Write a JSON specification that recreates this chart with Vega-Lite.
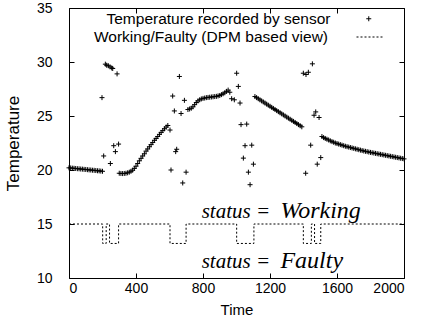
{
  "$schema": "https://vega.github.io/schema/vega-lite/v6.json",
  "width": 335,
  "height": 270,
  "autosize": "none",
  "padding": {"left": 69, "top": 8, "right": 19, "bottom": 47},
  "background": "white",
  "config": {
    "view": {"stroke": "black", "strokeWidth": 1},
    "font": "Liberation Sans",
    "axis": {"grid": false, "domain": false, "tickColor": "black", "tickSize": -5, "labelColor": "black", "labelFontSize": 14, "labelFont": "Liberation Sans", "titleFont": "Liberation Sans", "titleFontSize": 15, "titleFontWeight": "normal", "titleColor": "black"},
    "legend": {"title": null, "orient": "none", "labelFontSize": 15.5, "labelColor": "black", "labelFont": "Liberation Sans", "labelAlign": "right", "labelLimit": 400, "symbolStrokeColor": "black", "symbolFillColor": "transparent", "symbolStrokeWidth": 1, "symbolOpacity": 1}
  },
  "datasets": {
    "temp": [
      {"t":0,"v":20.2},{"t":10,"v":20.19},{"t":20,"v":20.17},{"t":30,"v":20.16},{"t":40,"v":20.14},{"t":50,"v":20.12},{"t":60,"v":20.11},{"t":70,"v":20.09},{"t":80,"v":20.08},{"t":90,"v":20.06},{"t":100,"v":20.05},{"t":110,"v":20.03},{"t":120,"v":20.01},{"t":130,"v":20.0},{"t":140,"v":19.98},{"t":150,"v":19.97},{"t":160,"v":19.95},{"t":170,"v":19.93},{"t":180,"v":19.92},{"t":190,"v":19.9},{"t":200,"v":19.88},
      {"t":197,"v":26.7},{"t":217,"v":29.8},{"t":225,"v":29.7},{"t":235,"v":29.65},{"t":245,"v":29.55},{"t":255,"v":29.45},{"t":261,"v":29.4},{"t":287,"v":28.9},{"t":207,"v":21.3},{"t":247,"v":20.6},{"t":267,"v":22.25},{"t":277,"v":21.7},{"t":296,"v":22.4},
      {"t":300,"v":19.7},{"t":310,"v":19.68},{"t":320,"v":19.67},{"t":330,"v":19.68},{"t":340,"v":19.7},{"t":350,"v":19.74},{"t":360,"v":19.8},{"t":370,"v":19.88},{"t":380,"v":19.98},{"t":390,"v":20.15},{"t":400,"v":20.35},{"t":410,"v":20.6},{"t":420,"v":20.85},{"t":430,"v":21.08},{"t":440,"v":21.3},{"t":450,"v":21.5},{"t":460,"v":21.75},{"t":470,"v":21.95},{"t":480,"v":22.15},{"t":490,"v":22.35},{"t":500,"v":22.55},{"t":510,"v":22.75},{"t":520,"v":22.92},{"t":530,"v":23.1},{"t":540,"v":23.3},{"t":550,"v":23.48},{"t":560,"v":23.65},{"t":570,"v":23.82},{"t":580,"v":23.98},{"t":590,"v":24.12},
      {"t":603,"v":23.7},{"t":659,"v":28.66},{"t":619,"v":26.85},{"t":629,"v":25.47},{"t":689,"v":26.45},{"t":669,"v":25.23},{"t":643,"v":21.92},{"t":637,"v":21.7},{"t":609,"v":20.0},{"t":699,"v":19.8},{"t":679,"v":18.8},
      {"t":710,"v":25.6},{"t":720,"v":25.65},{"t":730,"v":25.72},{"t":740,"v":25.85},{"t":750,"v":26.05},{"t":760,"v":26.25},{"t":770,"v":26.4},{"t":780,"v":26.5},{"t":790,"v":26.58},{"t":800,"v":26.63},{"t":810,"v":26.66},{"t":820,"v":26.7},{"t":830,"v":26.72},{"t":840,"v":26.74},{"t":850,"v":26.76},{"t":860,"v":26.78},{"t":870,"v":26.8},{"t":880,"v":26.82},{"t":890,"v":26.86},{"t":900,"v":26.9},{"t":910,"v":26.98},{"t":920,"v":27.06},{"t":930,"v":27.15},{"t":940,"v":27.28},{"t":950,"v":27.4},{"t":960,"v":27.2},
      {"t":971,"v":26.6},{"t":987,"v":26.5},{"t":1001,"v":28.96},{"t":1011,"v":27.74},{"t":1021,"v":26.2},{"t":1027,"v":24.2},{"t":1061,"v":24.25},{"t":1051,"v":22.25},{"t":1091,"v":22.3},{"t":1041,"v":21.1},{"t":1101,"v":20.54},{"t":1071,"v":19.8},{"t":1081,"v":18.64},
      {"t":1110,"v":26.8},{"t":1120,"v":26.7},{"t":1130,"v":26.6},{"t":1140,"v":26.5},{"t":1150,"v":26.4},{"t":1160,"v":26.3},{"t":1170,"v":26.2},{"t":1180,"v":26.1},{"t":1190,"v":26.0},{"t":1200,"v":25.9},{"t":1210,"v":25.8},{"t":1220,"v":25.7},{"t":1230,"v":25.6},{"t":1240,"v":25.5},{"t":1250,"v":25.4},{"t":1260,"v":25.3},{"t":1270,"v":25.2},{"t":1280,"v":25.1},{"t":1290,"v":25.0},{"t":1300,"v":24.9},{"t":1310,"v":24.8},{"t":1320,"v":24.7},{"t":1330,"v":24.6},{"t":1340,"v":24.5},{"t":1350,"v":24.4},{"t":1360,"v":24.3},{"t":1370,"v":24.2},{"t":1380,"v":24.1},{"t":1390,"v":24.0},
      {"t":1453,"v":29.83},{"t":1399,"v":28.96},{"t":1415,"v":28.84},{"t":1429,"v":29.05},{"t":1473,"v":25.38},{"t":1463,"v":25.07},{"t":1493,"v":24.86},{"t":1443,"v":22.3},{"t":1503,"v":21.15},{"t":1482,"v":20.54},{"t":1413,"v":19.7},
      {"t":1510,"v":23.1},{"t":1520,"v":23.0},{"t":1530,"v":22.92},{"t":1540,"v":22.85},{"t":1550,"v":22.78},{"t":1560,"v":22.7},{"t":1570,"v":22.63},{"t":1580,"v":22.57},{"t":1590,"v":22.5},{"t":1600,"v":22.45},{"t":1610,"v":22.4},{"t":1620,"v":22.35},{"t":1630,"v":22.3},{"t":1640,"v":22.25},{"t":1650,"v":22.2},{"t":1660,"v":22.16},{"t":1670,"v":22.12},{"t":1680,"v":22.08},{"t":1690,"v":22.04},{"t":1700,"v":22.0},{"t":1710,"v":21.96},{"t":1720,"v":21.92},{"t":1730,"v":21.88},{"t":1740,"v":21.84},{"t":1750,"v":21.8},{"t":1760,"v":21.76},{"t":1770,"v":21.73},{"t":1780,"v":21.7},{"t":1790,"v":21.66},{"t":1800,"v":21.63},{"t":1810,"v":21.6},{"t":1820,"v":21.57},{"t":1830,"v":21.54},{"t":1840,"v":21.51},{"t":1850,"v":21.48},{"t":1860,"v":21.45},{"t":1870,"v":21.42},{"t":1880,"v":21.39},{"t":1890,"v":21.36},{"t":1900,"v":21.33},{"t":1910,"v":21.3},{"t":1920,"v":21.27},{"t":1930,"v":21.24},{"t":1940,"v":21.21},{"t":1950,"v":21.18},{"t":1960,"v":21.15},{"t":1970,"v":21.12},{"t":1980,"v":21.09},{"t":1990,"v":21.06},{"t":2000,"v":21.03}
    ],
    "status": [
      {"t":0,"v":15},{"t":201,"v":13.2},{"t":222,"v":15},{"t":242,"v":13.2},{"t":296,"v":15},{"t":603,"v":13.2},{"t":699,"v":15},{"t":1001,"v":13.2},{"t":1104,"v":15},{"t":1399,"v":13.2},{"t":1447,"v":15},{"t":1466,"v":13.2},{"t":1503,"v":15},{"t":2000,"v":15}
    ],
    "labels": [
      {"t":792,"v":15.53,"label":"status  ="},
      {"t":792,"v":10.9,"label":"status  ="}
    ],
    "words": [
      {"t":1262,"v":15.53,"label":"Working"},
      {"t":1262,"v":10.9,"label":"Faulty"}
    ]
  },
  "resolve": {"axis": {"x": "independent", "y": "independent"}},
  "layer": [
    {
      "data": {"name": "temp"},
      "mark": {"type": "point", "size": 25, "strokeWidth": 1, "filled": false, "opacity": 1, "color": "black"},
      "encoding": {
        "x": {"field": "t", "type": "quantitative", "scale": {"domain": [0, 2000], "nice": false}, "axis": {"orient": "bottom", "values": [0,400,800,1200,1600,2000], "format": "d", "title": "Time", "labelPadding": 8, "titlePadding": 7}},
        "y": {"field": "v", "type": "quantitative", "scale": {"domain": [10, 35], "nice": false, "zero": false}, "axis": {"orient": "left", "values": [10,15,20,25,30,35], "title": "Temperature", "titleFontSize": 17, "labelPadding": 22, "titlePadding": 14}},
        "shape": {"datum": "Temperature recorded by sensor", "scale": {"range": ["M-1,0H1M0,-1V1"]},
          "legend": {"legendX": 292, "legendY": 3, "labelOffset": -46, "symbolSize": 25, "symbolType": "M-1,0H1M0,-1V1"}}
      }
    },
    {
      "data": {"name": "status"},
      "mark": {"type": "line", "interpolate": "step-after", "strokeWidth": 1, "color": "black"},
      "encoding": {
        "x": {"field": "t", "type": "quantitative", "axis": null},
        "y": {"field": "v", "type": "quantitative", "axis": null},
        "strokeDash": {"datum": "Working/Faulty (DPM based view)", "scale": {"range": [[2, 2]]},
          "legend": {"legendX": 287, "legendY": 15, "labelOffset": -56, "symbolSize": 729, "symbolType": "stroke", "symbolDash": [2, 2]}}
      }
    },
    {
      "data": {"name": "words"},
      "mark": {"type": "text", "align": "left", "baseline": "alphabetic", "font": "Liberation Serif", "fontStyle": "italic", "fontSize": 24, "color": "black"},
      "encoding": {
        "x": {"field": "t", "type": "quantitative", "axis": null},
        "y": {"field": "v", "type": "quantitative", "axis": null},
        "text": {"field": "label"}
      }
    },
    {
      "data": {"name": "labels"},
      "mark": {"type": "text", "align": "left", "baseline": "alphabetic", "font": "Liberation Serif", "fontStyle": "italic", "fontSize": 21, "color": "black"},
      "encoding": {
        "x": {"field": "t", "type": "quantitative", "axis": {"orient": "top", "values": [0,400,800,1200,1600,2000], "labels": false, "title": null}},
        "y": {"field": "v", "type": "quantitative", "axis": {"orient": "right", "values": [10,15,20,25,30,35], "labels": false, "title": null}},
        "text": {"field": "label"}
      }
    }
  ]
}
